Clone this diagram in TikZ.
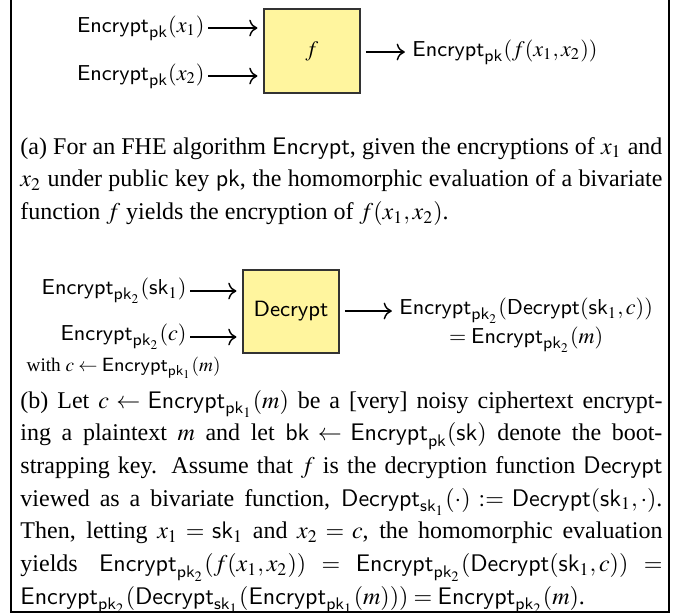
\documentclass[tikz,border=0pt]{standalone}
\usepackage{mathptmx}
\usepackage[no-math]{fontspec}
\setmainfont{Liberation Serif}
\usetikzlibrary{arrows.meta}
\definecolor{boxyellow}{RGB}{255,245,158}
\newcommand{\Enc}{\mathsf{Encrypt}}
\newcommand{\Dec}{\mathsf{Decrypt}}
\begin{document}
\begin{tikzpicture}[x=0.416667pt,y=-0.416667pt,
  every node/.style={inner sep=0pt, font=\fontsize{10}{13.6}\selectfont},
  lbl/.style={font=\fontsize{9.2}{11}\selectfont},
  box/.style={lbl, draw=black!80, line width=0.5pt, fill=boxyellow, minimum width=40pt, minimum height=35pt},
  arr/.style={line width=0.6pt, -{Computer Modern Rightarrow[length=3.4pt,width=7pt]}, shorten <=1.3pt, shorten >=2.5pt},
  outarr/.style={arr, shorten <=2.2pt, shorten >=3pt},
  captext/.style={anchor=north west, text width=267.5pt, align=justify},
  smalltext/.style={font=\fontsize{8}{9.5}\selectfont}
]
\useasboundingbox (0,0) rectangle (677,615);
\draw[line width=0.5pt] (11,-2) -- (11,612) -- (669,612) -- (669,-2);

% (a)
\node[box] (f) at (312,51) {$f$};
\node[lbl, anchor=east] (in1) at (205,28) {$\Enc_{\mathsf{pk}}(x_1)$};
\node[lbl, anchor=east] (in2) at (205,76) {$\Enc_{\mathsf{pk}}(x_2)$};
\node[lbl, anchor=west] (out) at (412,52) {$\Enc_{\mathsf{pk}}(f(x_1,x_2))$};
\draw[arr] (in1.east) -- (in1.east -| f.west);
\draw[arr] (in2.east) -- (in2.east -| f.west);
\draw[outarr] (f.east |- out.west) -- (out.west);

\node[captext] (capa) at (20,131) {\strut(a) For an FHE algorithm \textsf{Encrypt}, given the encryptions of $x_1$ and\linebreak
$x_2$ under public key \textsf{pk}, the homomorphic evaluation of a bivariate\linebreak
function $f$ yields the encryption of $f(x_1,x_2)$.};

% (b)
\node[box, minimum height=34.6pt] (dec) at (291,311.5) {\textsf{Decrypt}};
\node[lbl, anchor=east] (b1) at (187,291) {$\Enc_{\mathsf{pk}_2}(\mathsf{sk}_1)$};
\node[lbl, anchor=east] (b2) at (187,337) {$\Enc_{\mathsf{pk}_2}(c)$};
\node[smalltext] (w) at ([yshift=-12.8pt]b2.center) {with $c \leftarrow \Enc_{\mathsf{pk}_1}(m)$};
\node[lbl, anchor=west] (bo1) at (399,311) {$\Enc_{\mathsf{pk}_2}(\Dec(\mathsf{sk}_1,c))$};
\node[lbl] (bo2) at ([yshift=-12pt]bo1.center) {$= \Enc_{\mathsf{pk}_2}(m)$};
\draw[arr] (b1.east) -- (b1.east -| dec.west);
\draw[arr] (b2.east) -- (b2.east -| dec.west);
\draw[outarr] (dec.east |- bo1.west) -- (bo1.west);

\node[captext] (capb) at (20,385) {\strut(b) Let $c \leftarrow \Enc_{\mathsf{pk}_1}(m)$ be a [very] noisy ciphertext encrypt-\linebreak
ing a plaintext $m$ and let $\mathsf{bk} \leftarrow \Enc_{\mathsf{pk}}(\mathsf{sk})$ denote the boot-\linebreak
strapping key. Assume that $f$ is the decryption function \textsf{Decrypt}\linebreak
viewed as a bivariate function, $\Dec_{\mathsf{sk}_1}(\cdot) := \Dec(\mathsf{sk}_1,\cdot)$.\linebreak
Then, letting $x_1=\mathsf{sk}_1$ and $x_2=c$, the homomorphic evaluation\linebreak
yields $\Enc_{\mathsf{pk}_2}(f(x_1,x_2)) = \Enc_{\mathsf{pk}_2}(\Dec(\mathsf{sk}_1,c)) =$\linebreak
$\Enc_{\mathsf{pk}_2}(\Dec_{\mathsf{sk}_1}(\Enc_{\mathsf{pk}_1}(m))) = \Enc_{\mathsf{pk}_2}(m)$.};
\end{tikzpicture}
\end{document}
